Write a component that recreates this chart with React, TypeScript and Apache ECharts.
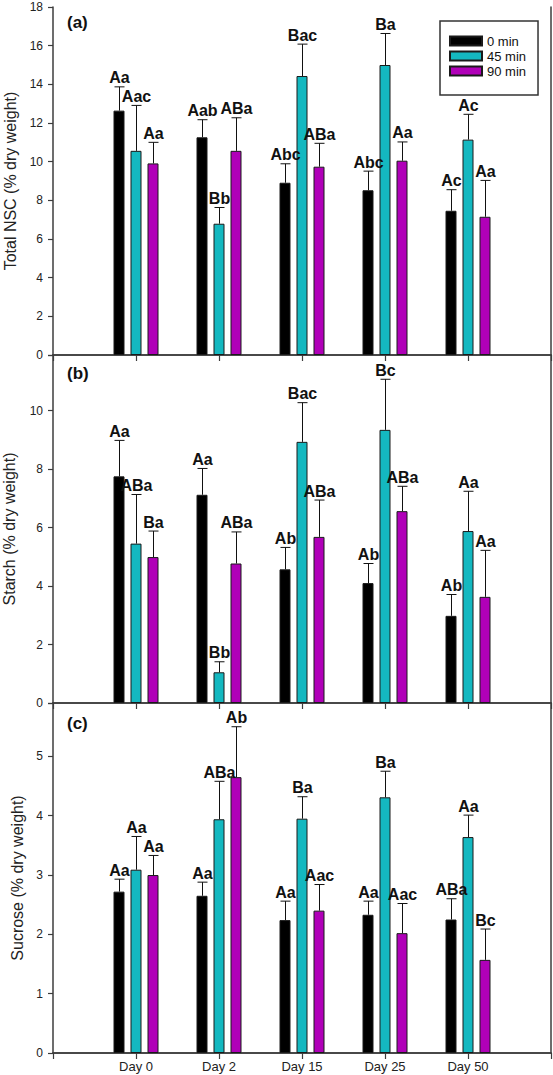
import React, { useEffect, useRef } from "react";
import * as echarts from "echarts";

// ---------- data ----------
const categories = ["", "Day 0", "Day 2", "Day 15", "Day 25", "Day 50", ""];
const groups = ["0 min", "45 min", "90 min"];
const groupColors = ["#000000", "#14B8C0", "#B000B8"];

// (a) Total NSC
const nsc0 = [12.64, 11.26, 8.91, 8.52, 7.46];
const nsc45 = [10.56, 6.79, 14.43, 15.0, 11.14];
const nsc90 = [9.91, 10.56, 9.74, 10.05, 7.15];
const nscSe0 = [1.23, 0.91, 0.98, 0.99, 1.09];
const nscSe45 = [2.35, 0.84, 1.65, 1.63, 1.31];
const nscSe90 = [1.09, 1.71, 1.21, 0.97, 1.88];
const nscLab0 = ["Aa", "Aab", "Abc", "Abc", "Ac"];
const nscLab45 = ["Aac", "Bb", "Bac", "Ba", "Ac"];
const nscLab90 = ["Aa", "ABa", "ABa", "Aa", "Aa"];

// (b) Starch
const st0 = [7.75, 7.12, 4.57, 4.1, 2.98];
const st45 = [5.45, 1.05, 8.93, 9.34, 5.88];
const st90 = [4.99, 4.77, 5.68, 6.56, 3.63];
const stSe0 = [1.23, 0.9, 0.75, 0.67, 0.73];
const stSe45 = [1.68, 0.36, 1.34, 1.73, 1.36];
const stSe90 = [0.89, 1.08, 1.26, 0.85, 1.59];
const stLab0 = ["Aa", "Aa", "Ab", "Ab", "Ab"];
const stLab45 = ["ABa", "Bb", "Bac", "Bc", "Aa"];
const stLab90 = ["Ba", "ABa", "ABa", "ABa", "Aa"];

// (c) Sucrose
const su0 = [2.72, 2.65, 2.24, 2.33, 2.25];
const su45 = [3.09, 3.94, 3.95, 4.31, 3.64];
const su90 = [3.0, 4.65, 2.4, 2.02, 1.57];
const suSe0 = [0.21, 0.23, 0.32, 0.23, 0.35];
const suSe45 = [0.56, 0.64, 0.37, 0.44, 0.37];
const suSe90 = [0.33, 0.85, 0.44, 0.5, 0.52];
const suLab0 = ["Aa", "Aa", "Aa", "Aa", "ABa"];
const suLab45 = ["Aa", "ABa", "Ba", "Ba", "Aa"];
const suLab90 = ["Aa", "Ab", "Aac", "Aac", "Bc"];

// axis settings
const yTitles = ["Total NSC (% dry weight)", "Starch (% dry weight)", "Sucrose (% dry weight)"];
const yMax = [18, 11.9, 5.9];
const yInterval = [2, 2, 1];
const panelTags = ["(a)", "(b)", "(c)"];

// ---------- layout ----------
const FONT = '"Liberation Sans", Arial, Helvetica, sans-serif';
const AXIS_COLOR = "#3c3c3c";
const BAR_W = 11;
const BAR_GAP = 6;
const OFFSETS = [-(BAR_W + BAR_GAP), 0, BAR_W + BAR_GAP];
const GRID_LEFT = 53;
const GRID_W = 498;
const gridTops = [7, 355, 703];
const gridHeights = [348, 348, 350];
const nameGaps = [33, 36, 26];
const tagY = [24, 375, 725];

const panels = [
  { means: [nsc0, nsc45, nsc90], ses: [nscSe0, nscSe45, nscSe90], labs: [nscLab0, nscLab45, nscLab90] },
  { means: [st0, st45, st90], ses: [stSe0, stSe45, stSe90], labs: [stLab0, stLab45, stLab90] },
  { means: [su0, su45, su90], ses: [suSe0, suSe45, suSe90], labs: [suLab0, suLab45, suLab90] },
];

function buildOption() {
  const grid: any[] = [];
  const xAxis: any[] = [];
  const yAxis: any[] = [];
  const series: any[] = [];

  panels.forEach((p, pi) => {
    grid.push({
      left: GRID_LEFT,
      top: gridTops[pi],
      width: GRID_W,
      height: gridHeights[pi],
      containLabel: false,
      outerBoundsMode: "none",
    });
    const lineStyle = { color: AXIS_COLOR, width: 1.5 };
    xAxis.push({
      type: "category",
      gridIndex: pi,
      data: categories,
      boundaryGap: false,
      position: "bottom",
      axisLine: { show: true, lineStyle },
      axisTick: { show: false },
      axisLabel: {
        show: pi === 2,
        interval: 0,
        fontSize: 13,
        fontFamily: FONT,
        color: "#222",
        margin: 7,
      },
      splitLine: { show: false },
    });
    xAxis.push({
      type: "category",
      gridIndex: pi,
      data: categories,
      boundaryGap: false,
      position: "top",
      axisLine: { show: true, lineStyle },
      axisTick: { show: true, inside: true, length: 6, interval: 0, lineStyle: { color: AXIS_COLOR, width: 1.2 } },
      axisLabel: { show: false },
      splitLine: { show: false },
    });
    const iv = yInterval[pi];
    yAxis.push({
      type: "value",
      gridIndex: pi,
      min: 0,
      max: yMax[pi],
      interval: iv,
      position: "left",
      name: yTitles[pi],
      nameLocation: "middle",
      nameGap: nameGaps[pi],
      nameTextStyle: { fontSize: 16, fontFamily: FONT, color: "#222" },
      axisLine: { show: true, lineStyle },
      axisTick: { show: true, inside: false, length: 5, lineStyle: { color: AXIS_COLOR, width: 1.2 } },
      axisLabel: {
        fontSize: 12,
        fontFamily: FONT,
        color: "#222",
        margin: 10,
        formatter: (v: number) => (Math.abs(v / iv - Math.round(v / iv)) < 1e-6 ? String(v) : ""),
      },
      splitLine: { show: false },
    });
    yAxis.push({
      type: "value",
      gridIndex: pi,
      min: 0,
      max: yMax[pi],
      interval: iv,
      position: "right",
      axisLine: { show: true, lineStyle },
      axisTick: { show: false },
      axisLabel: { show: false },
      splitLine: { show: false },
    });

    const errData: any[] = [];
    const errLabels: string[] = [];
    groups.forEach((g, gi) => {
      series.push({
        type: "bar",
        name: g,
        xAxisIndex: pi * 2,
        yAxisIndex: pi * 2,
        barWidth: BAR_W,
        barGap: `${(BAR_GAP / BAR_W) * 100}%`,
        itemStyle: { color: groupColors[gi], borderColor: "#1a1a1a", borderWidth: 1 },
        data: p.means[gi].map((v, i) => [i + 1, v]),
        z: 2,
      });
      p.means[gi].forEach((v, i) => {
        errData.push([i + 1, v, +(v + p.ses[gi][i]).toFixed(3), gi]);
        errLabels.push(p.labs[gi][i]);
      });
    });

    series.push({
      type: "custom",
      name: "err" + pi,
      xAxisIndex: pi * 2,
      yAxisIndex: pi * 2,
      clip: false,
      z: 5,
      data: errData,
      renderItem: (params: any, api: any) => {
        const cat = api.value(0);
        const mean = api.value(1);
        const top = api.value(2);
        const gi = api.value(3);
        const b = api.coord([cat, mean]);
        const t = api.coord([cat, top]);
        const x = Math.round(b[0] + OFFSETS[gi]) + 0.5;
        const stroke = { stroke: "#111", lineWidth: 1 };
        return {
          type: "group",
          children: [
            { type: "line", shape: { x1: x, y1: b[1], x2: x, y2: t[1] }, style: stroke },
            { type: "line", shape: { x1: x - 5, y1: t[1], x2: x + 5, y2: t[1] }, style: stroke },
            {
              type: "text",
              x: x,
              y: t[1] - 1,
              style: {
                text: errLabels[params.dataIndex],
                align: "center",
                verticalAlign: "bottom",
                textAlign: "center",
                textVerticalAlign: "bottom",
                font: `bold 16px ${FONT}`,
                fill: "#111",
              },
            },
          ],
        };
      },
    });
  });

  return {
    animation: false,
    backgroundColor: "#ffffff",
    grid,
    xAxis,
    yAxis,
    series,
    legend: {
      data: groups,
      orient: "vertical",
      left: 440,
      top: 21,
      itemWidth: 32,
      itemHeight: 9,
      itemGap: 1,
      padding: [13, 12, 17, 9],
      borderColor: "#333",
      borderWidth: 1.5,
      backgroundColor: "#ffffff",
      selectedMode: false,
      icon: "rect",
      textStyle: { fontSize: 13, lineHeight: 14, fontFamily: FONT, color: "#111" },
    },
    graphic: panelTags.map((t, i) => ({
      type: "text",
      left: 67,
      top: tagY[i] - 10,
      style: { text: t, font: `bold 17px ${FONT}`, fill: "#111" },
    })),
  };
}

export default function App() {
  const ref = useRef<HTMLDivElement>(null);
  useEffect(() => {
    if (!ref.current) return;
    const chart = echarts.init(ref.current, undefined, { renderer: "svg" });
    chart.setOption(buildOption() as any);
    return () => chart.dispose();
  }, []);
  return (
    <div
      ref={ref}
      style={{ position: "absolute", left: 0, top: 0, width: 553, height: 1075, background: "#fff" }}
    />
  );
}
